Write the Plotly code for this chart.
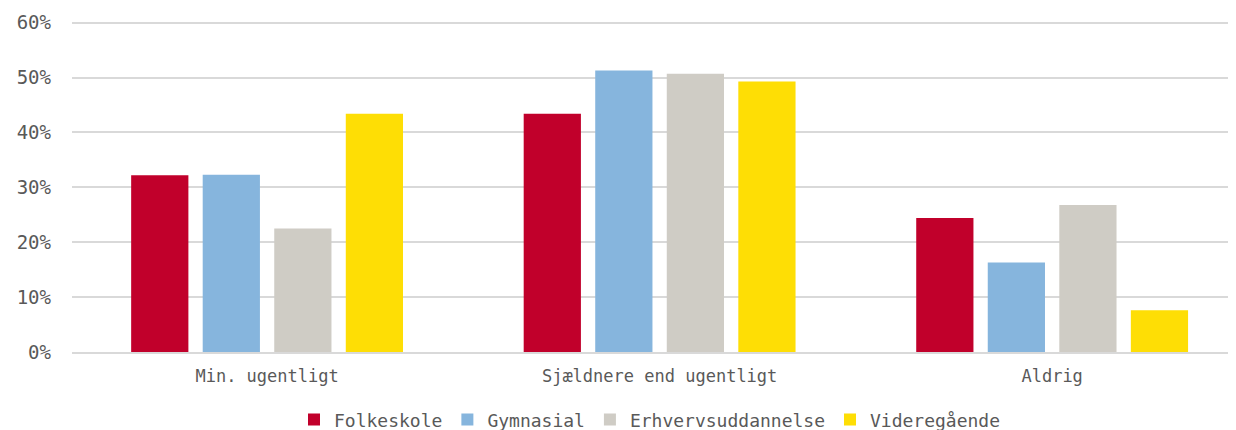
import plotly.graph_objects as go

categories = ["Min. ugentligt", "Sjældnere end ugentligt", "Aldrig"]
series_names = ["Folkeskole", "Gymnasial", "Erhvervsuddannelse", "Videregående"]
folkeskole = [0.322, 0.434, 0.244]
gymnasial = [0.323, 0.513, 0.163]
erhverv = [0.225, 0.507, 0.268]
videregaaende = [0.434, 0.493, 0.076]
colors = ["#C1002B", "#86B5DD", "#CFCCC5", "#FEDE05"]

fig = go.Figure()
for name, vals, col in zip(series_names,
                           [folkeskole, gymnasial, erhverv, videregaaende],
                           colors):
    fig.add_trace(go.Bar(x=categories, y=vals, name=name,
                         marker=dict(color=col, line=dict(width=0))))

# page body has an 8px margin, so the figure is shifted by 8px
fig.update_layout(
    width=1228, height=422,
    template="none",
    plot_bgcolor="white", paper_bgcolor="white",
    barmode="group",
    bargap=0.271,
    bargroupgap=0.2,
    font=dict(family="DejaVu Sans Mono, DejaVu Sans", size=17, color="#595959"),
    margin=dict(l=64, r=8, t=13, b=78),
    legend=dict(orientation="h", x=0.5, xanchor="center",
                xref="paper", yref="container", y=0.024, yanchor="middle",
                font=dict(size=18, color="#595959"),
                traceorder="normal"),
)
fig.update_yaxes(range=[0, 0.603], dtick=0.1, tickformat=".0%",
                 showgrid=True, gridcolor="#D9D9D9", gridwidth=1.5,
                 zeroline=False, showline=False, ticks="",
                 ticklabelstandoff=20, automargin=False,
                 tickfont=dict(size=19))
fig.update_xaxes(range=[-0.497, 2.448],
                 showgrid=False, showline=True, linecolor="#D9D9D9",
                 linewidth=2, ticks="", zeroline=False, automargin=False,
                 ticklabelstandoff=8)

fig.write_html("out.html")
